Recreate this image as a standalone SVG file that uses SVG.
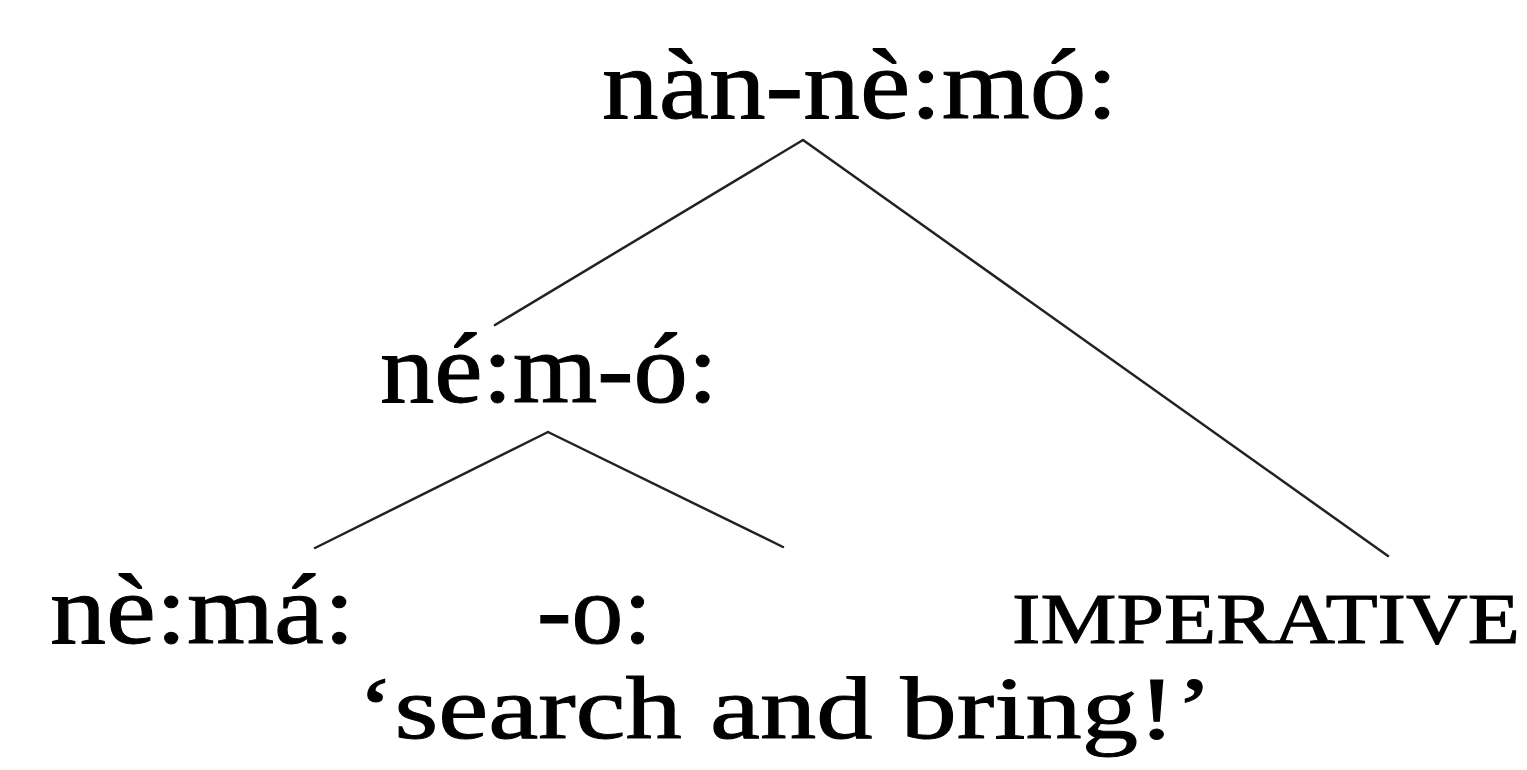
<svg xmlns="http://www.w3.org/2000/svg" width="1527" height="770" viewBox="0 0 1527 770">
<style>
text{font-family:"Liberation Serif","Times New Roman",serif;fill:#000;stroke:#000;stroke-width:1}
.c line{stroke:#222;stroke-width:2.5;stroke-linecap:round}
</style>
<rect width="1527" height="770" fill="#fff"/>
<g class="c" id="connectors">
<line x1="803" y1="140" x2="495" y2="325"/>
<line x1="803" y1="140" x2="1388" y2="556"/>
<line x1="548" y1="432" x2="315" y2="548"/>
<line x1="548" y1="432" x2="783" y2="547"/>
</g>
<g id="root"><text x="602" y="118" font-size="100" textLength="516" lengthAdjust="spacingAndGlyphs">nàn-nè:mó:</text></g>
<g id="mid"><text x="380" y="402" font-size="100" textLength="338" lengthAdjust="spacingAndGlyphs">né:m-ó:</text></g>
<g id="leaf1"><text x="50" y="643" font-size="100" textLength="305" lengthAdjust="spacingAndGlyphs">nè:má:</text></g>
<g id="leaf2"><text x="537" y="643" font-size="100" textLength="115" lengthAdjust="spacingAndGlyphs">-o:</text></g>
<g id="leaf3"><text x="1012" y="643" font-size="72" textLength="508" lengthAdjust="spacingAndGlyphs">IMPERATIVE</text></g>
<g id="gloss"><text x="357" y="738" font-size="88" textLength="856" lengthAdjust="spacingAndGlyphs">‘search and bring!’</text></g>
</svg>
